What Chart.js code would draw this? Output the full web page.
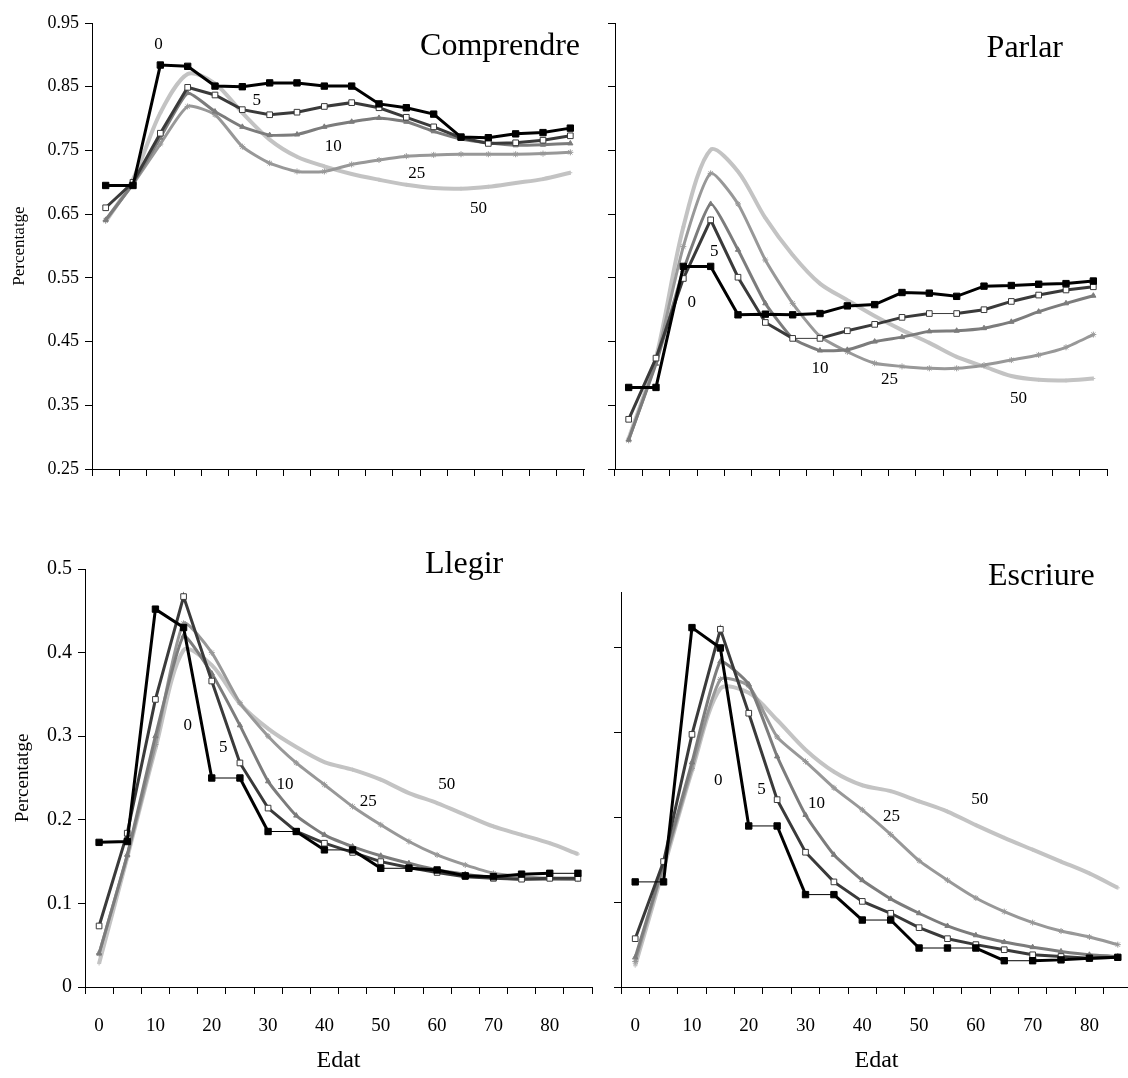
<!DOCTYPE html>
<html>
<head>
<meta charset="utf-8">
<script src="https://cdn.jsdelivr.net/npm/chart.js@4.4.1/dist/chart.umd.min.js"></script>
<style>
  html, body { margin: 0; padding: 0; background: #fff; }
  body { width: 1128px; height: 1078px; overflow: hidden; position: relative; }
  canvas { position: absolute; }
  .title { position: absolute; font-family: 'Liberation Serif', serif; font-size: 32px; line-height: 1; color: #000; white-space: nowrap; }
</style>
</head>
<body>
<canvas id="comprendre" width="600" height="490" style="left:0;top:0"></canvas>
<canvas id="parlar" width="528" height="490" style="left:600px;top:0"></canvas>
<canvas id="llegir" width="600" height="538" style="left:0;top:540px"></canvas>
<canvas id="escriure" width="560" height="538" style="left:580px;top:540px"></canvas>

<div class="title" style="right:548px;top:28px">Comprendre</div>
<div class="title" style="right:65px;top:30px">Parlar</div>
<div class="title" style="left:425px;top:546px">Llegir</div>
<div class="title" style="left:988px;top:558px">Escriure</div>

<script>
// age groups (Edat)
const ages = ['0', '5', '10', '15', '20', '25', '30', '35', '40', '45', '50', '55', '60', '65', '70', '75', '80', '85']
const seriesNames = ['0', '5', '10', '25', '50']

// Comprendre
const comprendre0  = [0.695, 0.695, 0.884, 0.882, 0.851, 0.850, 0.856, 0.856, 0.851, 0.851, 0.823, 0.817, 0.807, 0.771, 0.770, 0.776, 0.778, 0.785]
const comprendre5  = [0.660, 0.700, 0.777, 0.849, 0.837, 0.814, 0.806, 0.810, 0.819, 0.825, 0.817, 0.802, 0.787, 0.770, 0.761, 0.762, 0.766, 0.773]
const comprendre10 = [0.641, 0.698, 0.770, 0.840, 0.811, 0.787, 0.774, 0.775, 0.787, 0.795, 0.801, 0.795, 0.780, 0.768, 0.762, 0.758, 0.759, 0.761]
const comprendre25 = [0.640, 0.697, 0.760, 0.819, 0.806, 0.756, 0.730, 0.717, 0.717, 0.728, 0.735, 0.741, 0.743, 0.744, 0.744, 0.744, 0.745, 0.747]
const comprendre50 = [0.638, 0.705, 0.809, 0.870, 0.855, 0.809, 0.767, 0.740, 0.725, 0.713, 0.704, 0.696, 0.691, 0.690, 0.693, 0.699, 0.705, 0.715]

// Parlar
const parlar0  = [0.378, 0.378, 0.568, 0.568, 0.492, 0.493, 0.492, 0.494, 0.506, 0.508, 0.527, 0.526, 0.521, 0.537, 0.538, 0.540, 0.541, 0.545]
const parlar5  = [0.328, 0.424, 0.549, 0.641, 0.551, 0.480, 0.455, 0.455, 0.467, 0.477, 0.488, 0.494, 0.494, 0.500, 0.513, 0.523, 0.531, 0.536]
const parlar10 = [0.296, 0.415, 0.562, 0.666, 0.594, 0.510, 0.455, 0.436, 0.437, 0.450, 0.457, 0.466, 0.467, 0.471, 0.481, 0.497, 0.510, 0.522]
const parlar25 = [0.295, 0.420, 0.599, 0.714, 0.666, 0.578, 0.510, 0.458, 0.434, 0.416, 0.411, 0.408, 0.408, 0.413, 0.421, 0.429, 0.441, 0.461]
const parlar50 = [0.298, 0.425, 0.630, 0.751, 0.717, 0.644, 0.586, 0.541, 0.515, 0.490, 0.468, 0.448, 0.426, 0.411, 0.396, 0.390, 0.389, 0.392]

// Llegir
const llegir0  = [0.173, 0.174, 0.452, 0.430, 0.250, 0.250, 0.186, 0.186, 0.164, 0.164, 0.142, 0.142, 0.140, 0.133, 0.132, 0.135, 0.136, 0.136]
const llegir5  = [0.073, 0.184, 0.344, 0.467, 0.366, 0.268, 0.214, 0.186, 0.172, 0.161, 0.150, 0.143, 0.137, 0.132, 0.130, 0.129, 0.130, 0.130]
const llegir10 = [0.040, 0.158, 0.300, 0.420, 0.375, 0.313, 0.246, 0.205, 0.182, 0.168, 0.157, 0.148, 0.140, 0.135, 0.131, 0.129, 0.129, 0.129]
const llegir25 = [0.040, 0.157, 0.290, 0.435, 0.400, 0.340, 0.300, 0.268, 0.242, 0.216, 0.194, 0.174, 0.158, 0.146, 0.136, 0.132, 0.130, 0.129]
const llegir50 = [0.028, 0.155, 0.285, 0.403, 0.385, 0.339, 0.309, 0.287, 0.269, 0.260, 0.248, 0.232, 0.220, 0.206, 0.192, 0.182, 0.172, 0.159]

// Escriure
const escriure0  = [0.124, 0.124, 0.424, 0.400, 0.190, 0.190, 0.109, 0.109, 0.079, 0.079, 0.046, 0.046, 0.046, 0.031, 0.031, 0.032, 0.034, 0.035]
const escriure5  = [0.057, 0.148, 0.298, 0.422, 0.323, 0.221, 0.159, 0.124, 0.101, 0.087, 0.070, 0.057, 0.050, 0.044, 0.038, 0.036, 0.034, 0.035]
const escriure10 = [0.035, 0.145, 0.265, 0.384, 0.357, 0.272, 0.203, 0.156, 0.126, 0.104, 0.087, 0.072, 0.061, 0.053, 0.047, 0.042, 0.038, 0.036]
const escriure25 = [0.030, 0.143, 0.258, 0.363, 0.355, 0.295, 0.266, 0.235, 0.209, 0.180, 0.149, 0.126, 0.105, 0.089, 0.076, 0.066, 0.059, 0.050]
const escriure50 = [0.025, 0.140, 0.255, 0.352, 0.347, 0.315, 0.280, 0.254, 0.238, 0.231, 0.219, 0.207, 0.191, 0.176, 0.162, 0.148, 0.134, 0.117]

const serif = 'Liberation Serif'
Chart.defaults.font.family = serif
Chart.defaults.color = '#000'

// line look for 0, 5, 10, 25, 50
const looks = [
  { color: '#000000', width: 3, point: 'rect', radius: 4.5, fill: '#000000', tension: 0 },
  { color: '#3a3a3a', width: 3, point: 'rect', radius: 4, fill: '#ffffff', tension: 0 },
  { color: '#7c7c7c', width: 3, point: 'triangle', radius: 3, fill: '#7c7c7c', tension: 0.15 },
  { color: '#989898', width: 3, point: 'star', radius: 3, fill: '#989898', tension: 0.2 },
  { color: '#c3c3c3', width: 4, point: 'cross', radius: 2, fill: '#c3c3c3', tension: 0.3 }
]

// segments that stay flat are drawn thin in some panels
const thinFlat = (on) => ({
  borderWidth: ctx => on && Math.abs(ctx.p0.parsed.y - ctx.p1.parsed.y) < 0.0005 ? 1 : undefined
})

const curveLabels = {
  id: 'curveLabels',
  afterDatasetsDraw(chart, args, opts) {
    const { ctx, scales: { x, y } } = chart
    ctx.save()
    ctx.font = `${opts.size}px ${serif}`
    ctx.fillStyle = '#000'
    ctx.textAlign = 'center'
    ctx.textBaseline = 'middle'
    seriesNames.forEach((name, i) => {
      ctx.fillText(name, x.getPixelForValue(opts.at[i][0]), y.getPixelForValue(opts.at[i][1]))
    })
    ctx.restore()
  }
}

function panel(id, series, o) {
  return new Chart(document.getElementById(id), {
    type: 'line',
    data: {
      labels: ages,
      datasets: series.map((values, i) => ({
        label: seriesNames[i],
        data: values,
        borderColor: looks[i].color,
        backgroundColor: looks[i].fill,
        borderWidth: looks[i].width,
        pointStyle: looks[i].point,
        pointRadius: looks[i].radius,
        pointBorderColor: looks[i].color,
        pointBackgroundColor: looks[i].fill,
        pointBorderWidth: 1,
        tension: looks[i].tension,
        segment: thinFlat(o.thin.includes(i))
      }))
    },
    options: {
      responsive: false,
      animation: false,
      layout: { padding: o.padding },
      plugins: {
        legend: { display: false },
        tooltip: { enabled: false },
        curveLabels: { at: o.labelsAt, size: 17 }
      },
      scales: {
        x: {
          offset: true,
          grid: { offset: true, drawOnChartArea: false, tickLength: 7, color: '#000' },
          border: { color: '#000', width: 1 },
          ticks: {
            display: o.xLabels,
            autoSkip: false,
            maxRotation: 0,
            padding: 21,
            font: { size: 19 },
            callback: function (v, i) { return i % 2 === 0 ? this.getLabelForValue(v) : '' }
          },
          title: { display: o.xLabels, text: 'Edat', font: { size: 24 }, padding: { top: 0, bottom: 3 } },
          afterFit: s => { s.height = o.xHeight }
        },
        y: {
          min: o.min,
          max: o.max,
          grid: { drawOnChartArea: false, tickLength: 7, color: '#000' },
          border: { color: '#000', width: 1 },
          ticks: {
            display: o.yLabels,
            stepSize: 0.1,
            includeBounds: false,
            padding: 6,
            font: { size: o.tickSize },
            callback: o.fmt
          },
          title: { display: o.yTitle, text: 'Percentatge', font: { size: o.titleSize }, padding: { top: o.titlePad, bottom: 0 } },
          afterFit: s => { s.width = o.yWidth }
        }
      }
    },
    plugins: [curveLabels]
  })
}

panel('comprendre', [comprendre0, comprendre5, comprendre10, comprendre25, comprendre50], {
  padding: { top: 23, right: 16, left: 0, bottom: 0 }, yWidth: 92, xHeight: 21,
  min: 0.25, max: 0.95, fmt: v => v.toFixed(2), yLabels: true, xLabels: false,
  tickSize: 18, yTitle: true, titleSize: 17, titlePad: 9, thin: [],
  labelsAt: [[1.93, 0.916], [5.53, 0.829], [8.33, 0.756], [11.38, 0.714], [13.64, 0.659]]
})

panel('parlar', [parlar0, parlar5, parlar10, parlar25, parlar50], {
  padding: { top: 23, right: 21, left: 0, bottom: 0 }, yWidth: 15, xHeight: 21,
  min: 0.25, max: 0.95, fmt: v => v.toFixed(2), yLabels: false, xLabels: false,
  tickSize: 18, yTitle: false, titleSize: 17, titlePad: 9, thin: [1],
  labelsAt: [[2.31, 0.511], [3.13, 0.591], [7.0, 0.408], [9.54, 0.390], [14.26, 0.361]]
})

panel('llegir', [llegir0, llegir5, llegir10, llegir25, llegir50], {
  padding: { top: 29, right: 8, left: 0, bottom: 0 }, yWidth: 85, xHeight: 91,
  min: 0, max: 0.5, fmt: v => String(Math.round(v * 10) / 10), yLabels: true, xLabels: true,
  tickSize: 20, yTitle: true, titleSize: 19, titlePad: 12, thin: [0],
  labelsAt: [[3.15, 0.313], [4.41, 0.286], [6.6, 0.242], [9.56, 0.222], [12.34, 0.242]]
})

panel('escriure', [escriure0, escriure5, escriure10, escriure25, escriure50], {
  padding: { top: 52, right: 8, left: 0, bottom: 0 }, yWidth: 41, xHeight: 91,
  min: 0, max: 0.466, fmt: v => String(Math.round(v * 10) / 10), yLabels: false, xLabels: true,
  tickSize: 20, yTitle: false, titleSize: 19, titlePad: 12, thin: [0],
  labelsAt: [[2.93, 0.244], [4.45, 0.233], [6.39, 0.217], [9.03, 0.201], [12.14, 0.221]]
})
</script>
</body>
</html>
